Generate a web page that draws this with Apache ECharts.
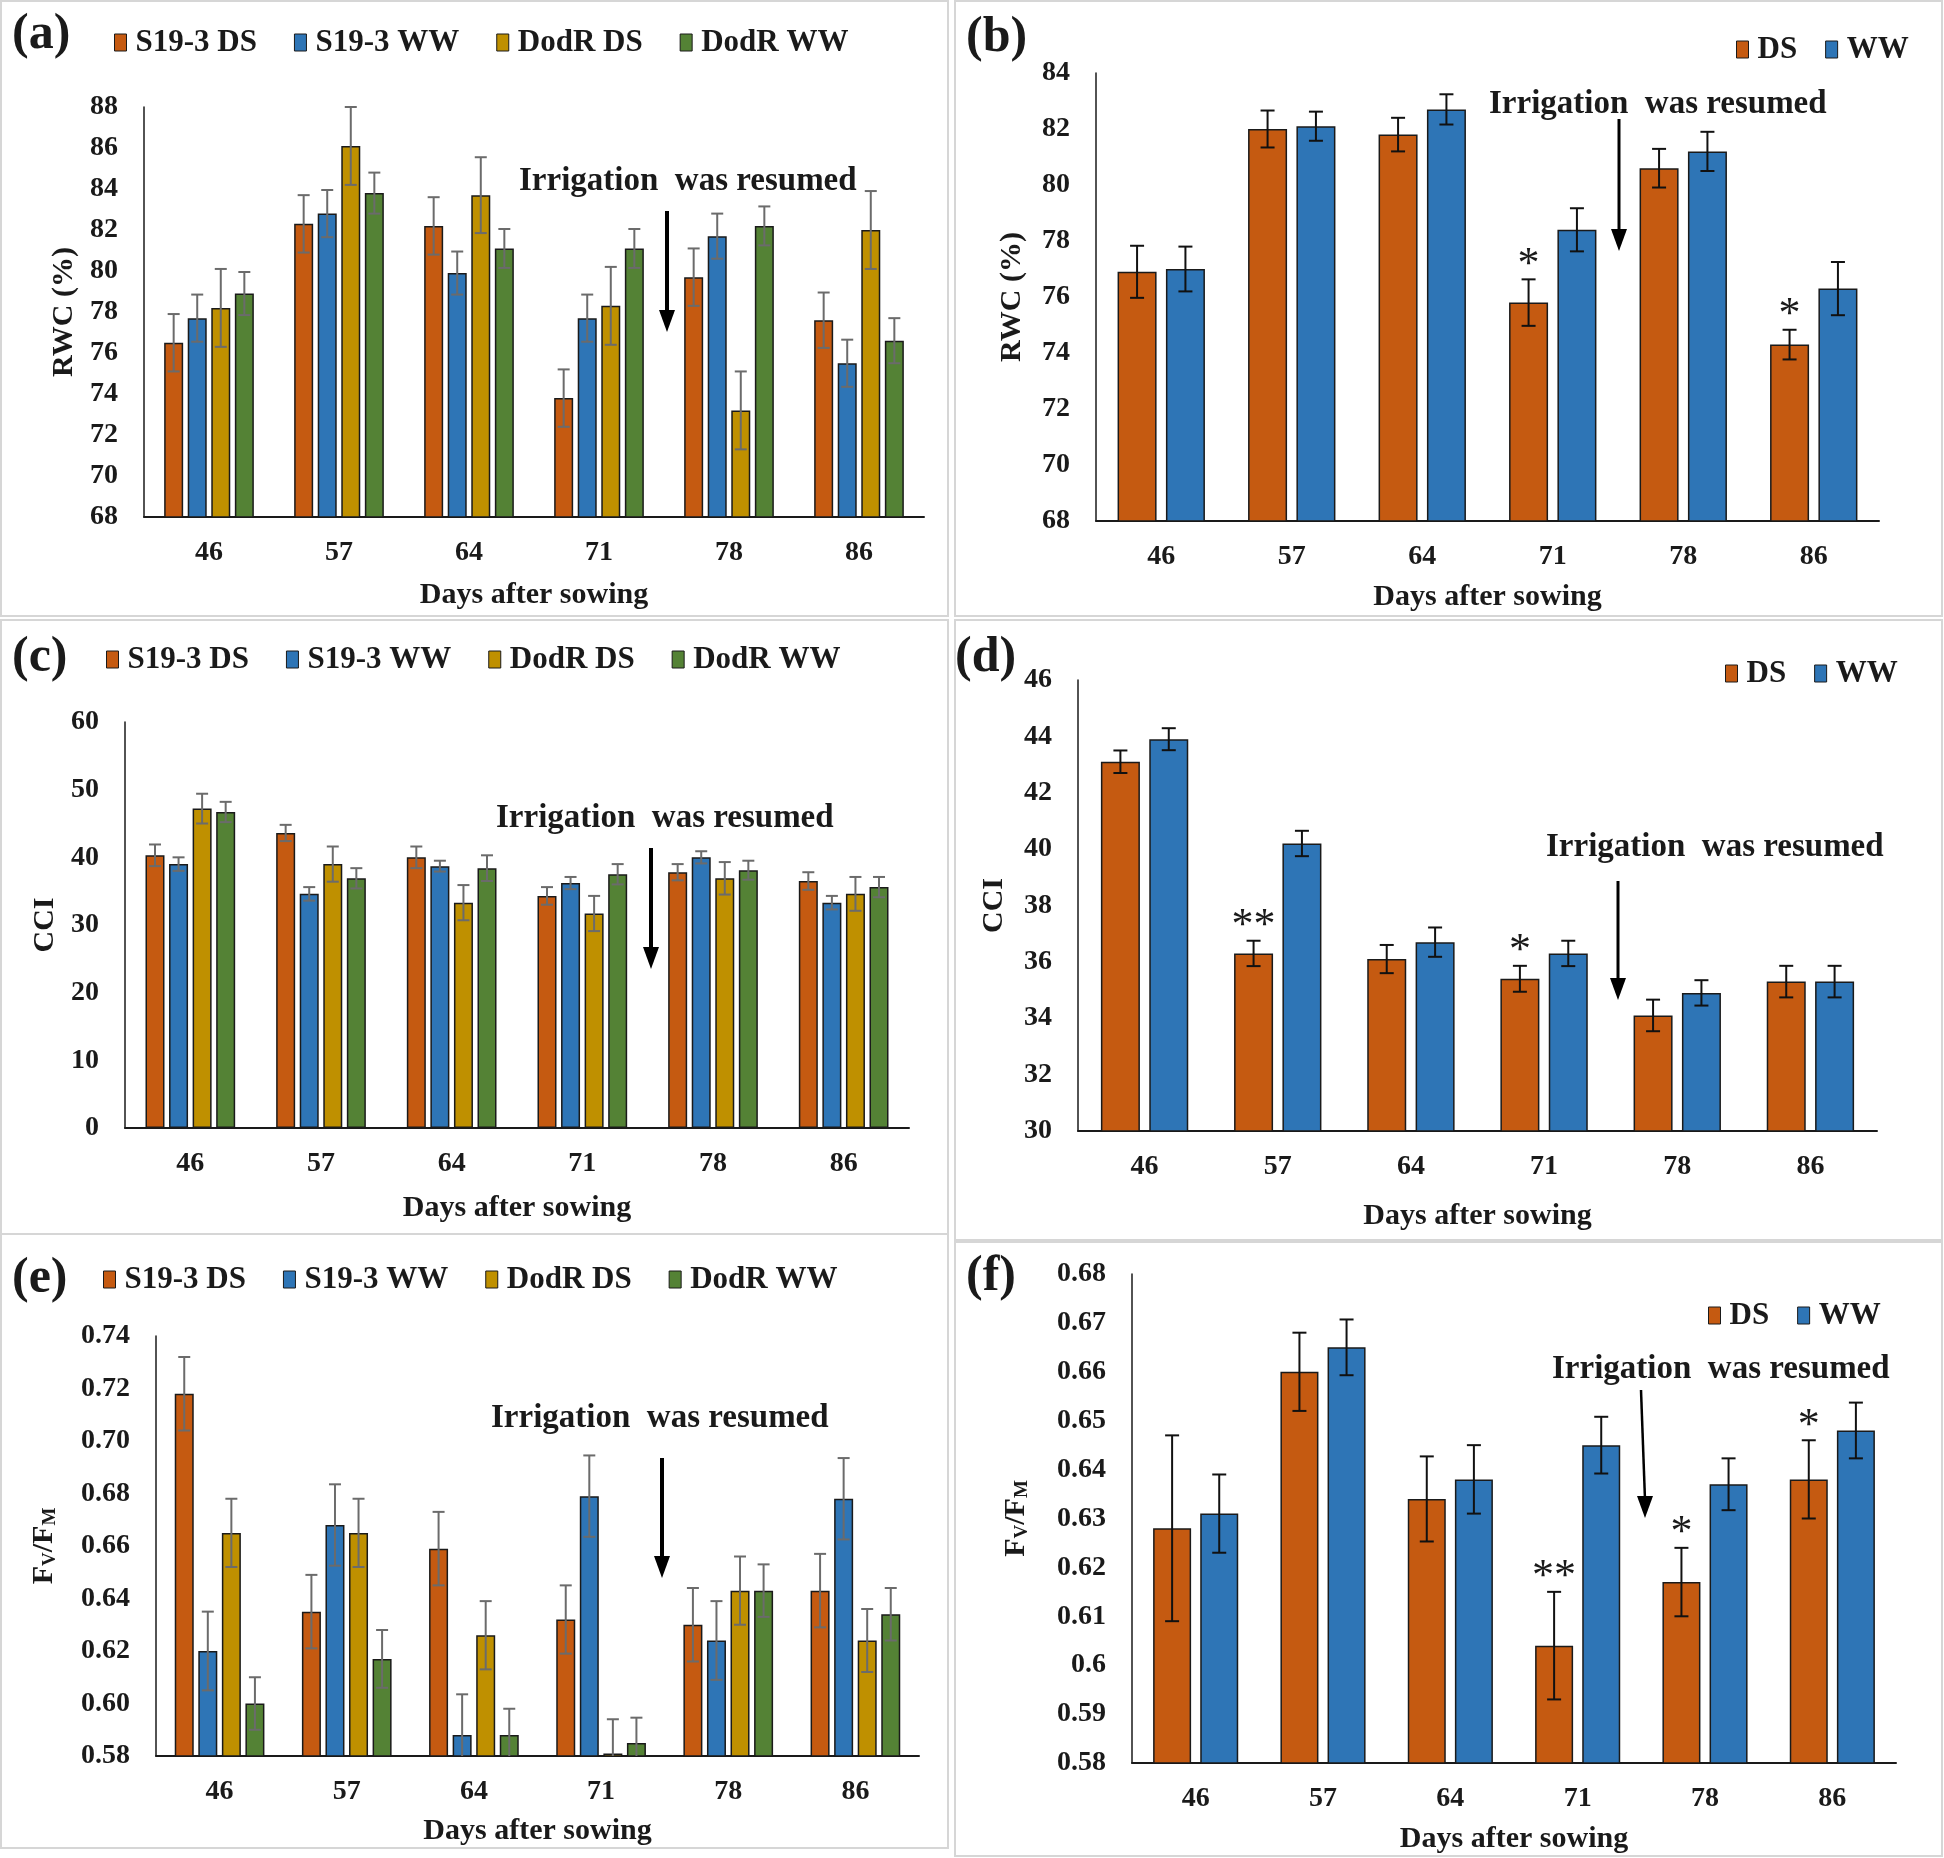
<!DOCTYPE html>
<html>
<head>
<meta charset="utf-8">
<script src="https://cdn.jsdelivr.net/npm/echarts@6/dist/echarts.min.js"></script>
<style>
  body { margin: 0; background: #fff; }
  #chart { width: 1944px; height: 1858px; }
</style>
</head>
<body>
<div id="chart"></div>
<script>
const days = ['46', '57', '64', '71', '78', '86'];
const fourNames = ['S19-3 DS', 'S19-3 WW', 'DodR DS', 'DodR WW'];
const twoNames = ['DS', 'WW'];

// (a) RWC per genotype
const rwcS19DS = [76.5, 82.3, 82.2, 73.8, 79.7, 77.6];
const rwcS19DSErr = [1.4, 1.4, 1.4, 1.4, 1.4, 1.35];
const rwcS19WW = [77.7, 82.8, 79.9, 77.7, 81.7, 75.5];
const rwcS19WWErr = [1.15, 1.15, 1.05, 1.15, 1.1, 1.15];
const rwcDodDS = [78.2, 86.1, 83.7, 78.3, 73.2, 82.0];
const rwcDodDSErr = [1.9, 1.9, 1.85, 1.9, 1.9, 1.9];
const rwcDodWW = [78.9, 83.8, 81.1, 81.1, 82.2, 76.6];
const rwcDodWWErr = [1.05, 1.0, 0.95, 0.95, 0.95, 1.1];

// (b) RWC pooled
const rwcDS = [76.9, 82.0, 81.8, 75.8, 80.6, 74.3];
const rwcDSErr = [0.93, 0.66, 0.6, 0.83, 0.69, 0.53];
const rwcWW = [77.0, 82.1, 82.7, 78.4, 81.2, 76.3];
const rwcWWErr = [0.8, 0.52, 0.54, 0.77, 0.7, 0.95];
const rwcSig = ['', '', '', '*', '', '*'];

// (c) CCI per genotype
const cciS19DS = [40.3, 43.6, 40.0, 34.3, 37.8, 36.5];
const cciS19DSErr = [1.6, 1.2, 1.6, 1.3, 1.2, 1.3];
const cciS19WW = [39.0, 34.6, 38.7, 36.2, 40.0, 33.3];
const cciS19WWErr = [1.0, 1.0, 0.8, 0.9, 0.9, 1.0];
const cciDodDS = [47.2, 39.0, 33.3, 31.7, 36.9, 34.6];
const cciDodDSErr = [2.2, 2.6, 2.6, 2.6, 2.4, 2.5];
const cciDodWW = [46.7, 36.9, 38.4, 37.5, 38.1, 35.6];
const cciDodWWErr = [1.5, 1.5, 1.9, 1.5, 1.4, 1.5];

// (d) CCI pooled
const cciDS = [43.1, 36.3, 36.1, 35.4, 34.1, 35.3];
const cciDSErr = [0.4, 0.45, 0.5, 0.46, 0.56, 0.56];
const cciWW = [43.9, 40.2, 36.7, 36.3, 34.9, 35.3];
const cciWWErr = [0.39, 0.45, 0.52, 0.45, 0.45, 0.56];
const cciSig = ['', '**', '', '*', '', ''];

// (e) Fv/Fm per genotype
const fvS19DS = [0.718, 0.635, 0.659, 0.632, 0.630, 0.643];
const fvS19DSErr = [0.014, 0.014, 0.014, 0.013, 0.014, 0.014];
const fvS19WW = [0.620, 0.668, 0.588, 0.679, 0.624, 0.678];
const fvS19WWErr = [0.015, 0.0155, 0.0155, 0.0155, 0.015, 0.0155];
const fvDodDS = [0.665, 0.665, 0.626, 0.581, 0.643, 0.624];
const fvDodDSErr = [0.013, 0.013, 0.013, 0.013, 0.013, 0.012];
const fvDodWW = [0.600, 0.617, 0.588, 0.585, 0.643, 0.634];
const fvDodWWErr = [0.01, 0.011, 0.01, 0.0096, 0.01, 0.01];

// (f) Fv/Fm pooled
const fvDS = [0.628, 0.660, 0.634, 0.604, 0.617, 0.638];
const fvDSErr = [0.019, 0.008, 0.0087, 0.011, 0.007, 0.008];
const fvWW = [0.631, 0.665, 0.638, 0.645, 0.637, 0.648];
const fvWWErr = [0.008, 0.0057, 0.007, 0.0058, 0.0053, 0.0057];
const fvSig = ['', '', '', '**', '*', '*'];

const COLORS4 = ['#C55A11', '#2E75B6', '#BF9000', '#548235'];
const COLORS2 = ['#C55A11', '#2E75B6'];
const FONT = '"Liberation Serif", "Times New Roman", serif';
const INK = '#1a1a1a';

const fvName = '{a|F}{s|V}{a|/F}{s|M}';

const panels = [
    { grid: {left: 144, top: 107, width: 780, height: 410}, min: 68, max: 88, interval: 2,
      yName: 'RWC (%)', yGap: 65, xGap: 63, names: fourNames, colors: COLORS4,
      vals: [rwcS19DS, rwcS19WW, rwcDodDS, rwcDodWW], errs: [rwcS19DSErr, rwcS19WWErr, rwcDodDSErr, rwcDodWWErr],
      bw: 19, gap: 0.24, errColor: '#6b6b6b', cap: 6, sig: null },
    { grid: {left: 1096, top: 73, width: 783, height: 448}, min: 68, max: 84, interval: 2,
      yName: 'RWC (%)', yGap: 69, xGap: 61, names: twoNames, colors: COLORS2,
      vals: [rwcDS, rwcWW], errs: [rwcDSErr, rwcWWErr],
      bw: 39, gap: 0.24, errColor: '#111', cap: 7, sig: rwcSig },
    { grid: {left: 125, top: 722, width: 784, height: 406}, min: 0, max: 60, interval: 10,
      yName: 'CCI', yGap: 65, xGap: 65, names: fourNames, colors: COLORS4,
      vals: [cciS19DS, cciS19WW, cciDodDS, cciDodWW], errs: [cciS19DSErr, cciS19WWErr, cciDodDSErr, cciDodWWErr],
      bw: 19, gap: 0.24, errColor: '#6b6b6b', cap: 6, sig: null },
    { grid: {left: 1078, top: 680, width: 799, height: 451}, min: 30, max: 46, interval: 2,
      yName: 'CCI', yGap: 69, xGap: 70, names: twoNames, colors: COLORS2,
      vals: [cciDS, cciWW], errs: [cciDSErr, cciWWErr],
      bw: 39, gap: 0.24, errColor: '#111', cap: 7, sig: cciSig },
    { grid: {left: 156, top: 1336, width: 763, height: 420}, min: 0.58, max: 0.74, interval: 0.02,
      yName: fvName, yGap: 96, xGap: 60, names: fourNames, colors: COLORS4,
      vals: [fvS19DS, fvS19WW, fvDodDS, fvDodWW], errs: [fvS19DSErr, fvS19WWErr, fvDodDSErr, fvDodWWErr],
      bw: 19, gap: 0.24, errColor: '#6b6b6b', cap: 6, sig: null, fmt: v => v.toFixed(2) },
    { grid: {left: 1132, top: 1274, width: 764, height: 489}, min: 0.58, max: 0.68, interval: 0.01,
      yName: fvName, yGap: 100, xGap: 61, names: twoNames, colors: COLORS2,
      vals: [fvDS, fvWW], errs: [fvDSErr, fvWWErr],
      bw: 38, gap: 0.24, errColor: '#111', cap: 7, sig: fvSig, fmt: v => String(parseFloat(v.toFixed(2))) }
];

const legendPos = [
    {left: 114, top: 27, itemGap: 37},
    {left: 1736, top: 34, itemGap: 28},
    {left: 106, top: 644, itemGap: 37},
    {left: 1725, top: 658, itemGap: 28},
    {left: 103, top: 1264, itemGap: 37},
    {left: 1708, top: 1300, itemGap: 28}
];

const frames = [
    [1, 1, 947, 615], [955, 1, 987, 615],
    [1, 620, 947, 614], [955, 620, 987, 620],
    [1, 1234, 947, 614], [955, 1242, 987, 614]
];
const panelLabels = [
    ['(a)', 12, 35], ['(b)', 966, 38], ['(c)', 12, 658],
    ['(d)', 955, 658], ['(e)', 12, 1279], ['(f)', 966, 1277]
];
const notes = [[519, 181], [1489, 104], [496, 818], [1546, 847], [491, 1418], [1552, 1369]];
const arrows = [
    [667, 211, 667, 332, 4], [1619, 119, 1619, 251, 3], [651, 848, 651, 969, 4],
    [1618, 881, 1618, 1000, 3], [662, 1458, 662, 1578, 4], [1641, 1390, 1645, 1518, 2.5]
];

function errorBars(p, k, pi) {
    const n = p.vals.length;
    const gapPx = p.bw * p.gap;
    const total = n * p.bw + (n - 1) * gapPx;
    const off = -total / 2 + k * (p.bw + gapPx) + p.bw / 2;
    const sig = (k === 0 && p.sig) ? p.sig : null;
    return {
        type: 'custom',
        xAxisIndex: pi,
        yAxisIndex: pi,
        z: 10,
        silent: true,
        clip: false,
        data: p.vals[k].map((v, i) => [i, v, p.errs[k][i]]),
        renderItem: function (params, api) {
            const c = api.value(0), v = api.value(1), e = api.value(2);
            const top = api.coord([c, v + e]);
            const bot = api.coord([c, Math.max(v - e, p.min)]);
            const x = top[0] + off;
            const ls = {stroke: p.errColor, lineWidth: 2};
            const children = [
                {type: 'line', shape: {x1: x, y1: top[1], x2: x, y2: bot[1]}, style: ls},
                {type: 'line', shape: {x1: x - p.cap, y1: top[1], x2: x + p.cap, y2: top[1]}, style: ls}
            ];
            if (v - e > p.min) {
                children.push({type: 'line', shape: {x1: x - p.cap, y1: bot[1], x2: x + p.cap, y2: bot[1]}, style: ls});
            }
            if (sig && sig[params.dataIndex]) {
                children.push({type: 'text', style: {
                    text: sig[params.dataIndex], x: x, y: top[1] + 8,
                    align: 'center', verticalAlign: 'bottom',
                    font: '44px ' + FONT, fill: INK
                }});
            }
            return {type: 'group', children: children};
        }
    };
}

const grid = [], xAxis = [], yAxis = [], series = [], legend = [];

panels.forEach((p, pi) => {
    grid.push(Object.assign({containLabel: false}, p.grid));
    xAxis.push({
        type: 'category', gridIndex: pi, data: days,
        name: 'Days after sowing', nameLocation: 'middle', nameGap: p.xGap,
        nameTextStyle: {fontFamily: FONT, fontWeight: 'bold', fontSize: 30, color: INK},
        axisTick: {show: false},
        axisLine: {lineStyle: {color: INK, width: 2}},
        axisLabel: {fontFamily: FONT, fontWeight: 'bold', fontSize: 28, color: INK, margin: 22}
    });
    yAxis.push({
        type: 'value', gridIndex: pi, min: p.min, max: p.max, interval: p.interval,
        name: p.yName, nameLocation: 'middle', nameGap: p.yGap, nameRotate: 90,
        nameTextStyle: {
            fontFamily: FONT, fontWeight: 'bold', fontSize: 30, color: INK,
            rich: {
                a: {fontFamily: FONT, fontWeight: 'bold', fontSize: 30, color: INK},
                s: {fontFamily: FONT, fontWeight: 'bold', fontSize: 19, color: INK, padding: [12, 0, 0, 0]}
            }
        },
        splitLine: {show: false},
        axisTick: {show: false},
        axisLine: {show: true, lineStyle: {color: INK, width: 1.5}},
        axisLabel: {fontFamily: FONT, fontWeight: 'bold', fontSize: 28, color: INK, margin: 26,
                    formatter: p.fmt || (v => String(v))}
    });
    p.vals.forEach((vals, k) => {
        series.push({
            type: 'bar', name: p.names[k], xAxisIndex: pi, yAxisIndex: pi,
            data: vals, barWidth: p.bw, barGap: Math.round(p.gap * 100) + '%',
            itemStyle: {color: p.colors[k], borderColor: INK, borderWidth: 1.5},
            silent: true
        });
    });
    p.vals.forEach((vals, k) => series.push(errorBars(p, k, pi)));
    legend.push(Object.assign({
        data: p.names, orient: 'horizontal', padding: 0, selectedMode: false,
        icon: 'rect', itemWidth: 12, itemHeight: 17,
        itemStyle: {borderColor: INK, borderWidth: 1},
        textStyle: {fontFamily: FONT, fontWeight: 'bold', fontSize: 31, color: INK, padding: [0, 0, 0, 4]}
    }, legendPos[pi]));
});

const graphic = [];
frames.forEach(f => graphic.push({
    type: 'rect', shape: {x: f[0], y: f[1], width: f[2], height: f[3]},
    style: {fill: 'none', stroke: '#d6d6d6', lineWidth: 2}, silent: true
}));
panelLabels.forEach(l => graphic.push({
    type: 'text', style: {text: l[0], x: l[1], y: l[2], verticalAlign: 'middle',
                          font: 'bold 50px ' + FONT, fill: INK}
}));
notes.forEach(n => graphic.push({
    type: 'text', style: {text: 'Irrigation  was resumed', x: n[0], y: n[1], verticalAlign: 'middle',
                          font: 'bold 33px ' + FONT, fill: INK}
}));
arrows.forEach(a => {
    graphic.push({type: 'line', shape: {x1: a[0], y1: a[1], x2: a[2], y2: a[3] - 18},
                  style: {stroke: '#000', lineWidth: a[4]}});
    graphic.push({type: 'polygon', shape: {points: [[a[2], a[3]], [a[2] - 8, a[3] - 22], [a[2] + 8, a[3] - 22]]},
                  style: {fill: '#000'}});
});

const myChart = echarts.init(document.getElementById('chart'), null, {renderer: 'canvas'});
myChart.setOption({
    animation: false,
    backgroundColor: '#fff',
    grid, xAxis, yAxis, series, legend, graphic
});
</script>
</body>
</html>
